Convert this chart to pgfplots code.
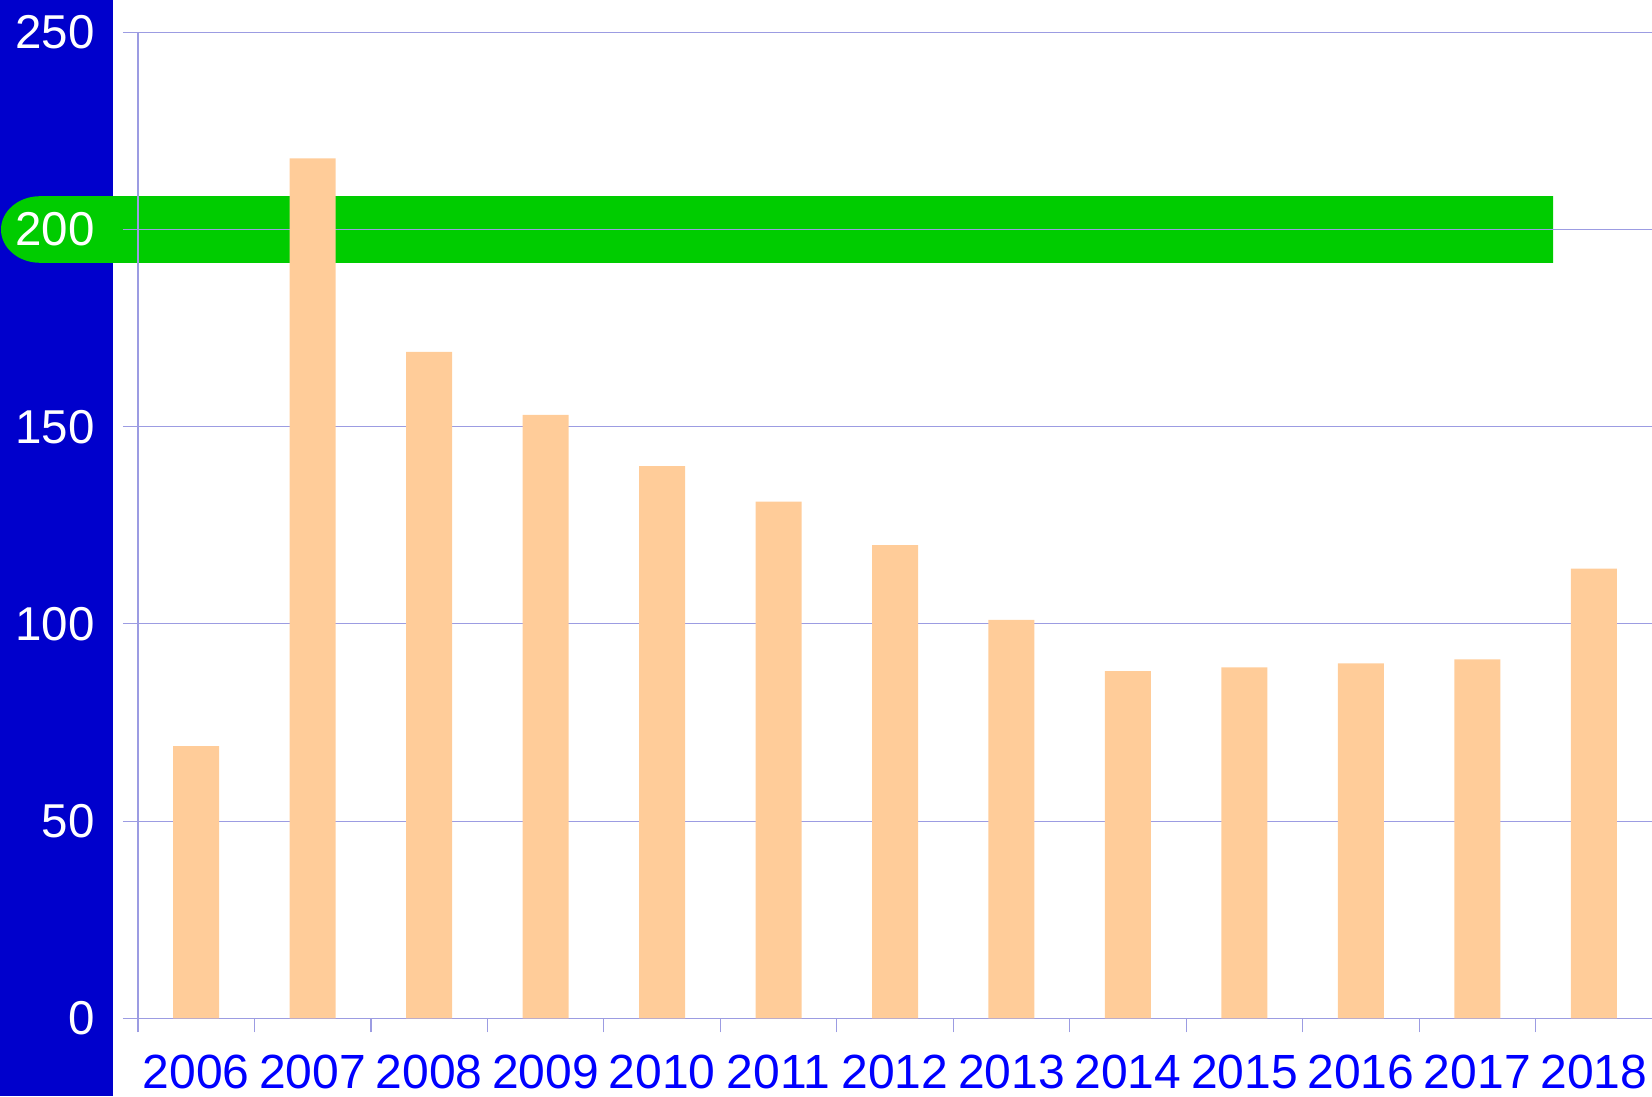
\documentclass[border=0pt]{standalone}
\usepackage{pgfplots}
\pgfplotsset{compat=1.18}
\usepackage{fontspec}
\setmainfont{Liberation Sans}
\definecolor{bandblue}{HTML}{0000CC}
\definecolor{bandgreen}{HTML}{00CC00}
\definecolor{peach}{HTML}{FFCC99}
\definecolor{gridc}{HTML}{9C9CE2}
\definecolor{labblue}{HTML}{0000FF}
\begin{document}
\begin{tikzpicture}[x=1bp,y=1bp]
\clip (-138,-77.7) rectangle (1514,1018.3);
\fill[bandblue] (-138,-77.7) rectangle (-25,1018.3);
\fill[bandgreen] (1415,755.5) -- (-98,755.5) arc[start angle=270,end angle=90,x radius=39,y radius=33.3] -- (1415,822.1) -- cycle;
\begin{axis}[
  at={(0,0)}, anchor=south west,
  scale only axis, width=1514bp, height=986bp,
  xmin=-0.5, xmax=12.5, ymin=0, ymax=250,
  ytick={0,50,100,150,200,250},
  xtick={0,1,2,3,4,5,6,7,8,9,10,11,12},
  xticklabels={2006,2007,2008,2009,2010,2011,2012,2013,2014,2015,2016,2017,2018},
  minor xtick={-0.5,0.5,1.5,2.5,3.5,4.5,5.5,6.5,7.5,8.5,9.5,10.5,11.5},
  major x tick style={draw=none},
  axis x line=bottom, axis y line=left,
  axis line style={-, draw=gridc, line width=1.2bp},
  ymajorgrids, grid style={draw=gridc, line width=1.2bp},
  tick style={draw=gridc, line width=1.2bp},
  tick align=outside,
  major tick length=15bp, minor tick length=14bp,
  /pgf/number format/assume math mode=true,
  yticklabel style={text=white, font=\fontsize{47.5bp}{52bp}\selectfont, inner sep=0pt, xshift=-28bp},
  xticklabel style={text=labblue, font=\fontsize{48bp}{52bp}\selectfont, inner sep=0pt, anchor=north, yshift=-21bp},
]
\addplot[ybar, fill=peach, draw=none, bar width=46bp] coordinates {
(0,69) (1,218) (2,169) (3,153) (4,140) (5,131) (6,120) (7,101) (8,88) (9,89) (10,90) (11,91) (12,114)
};
\end{axis}
\end{tikzpicture}
\end{document}
